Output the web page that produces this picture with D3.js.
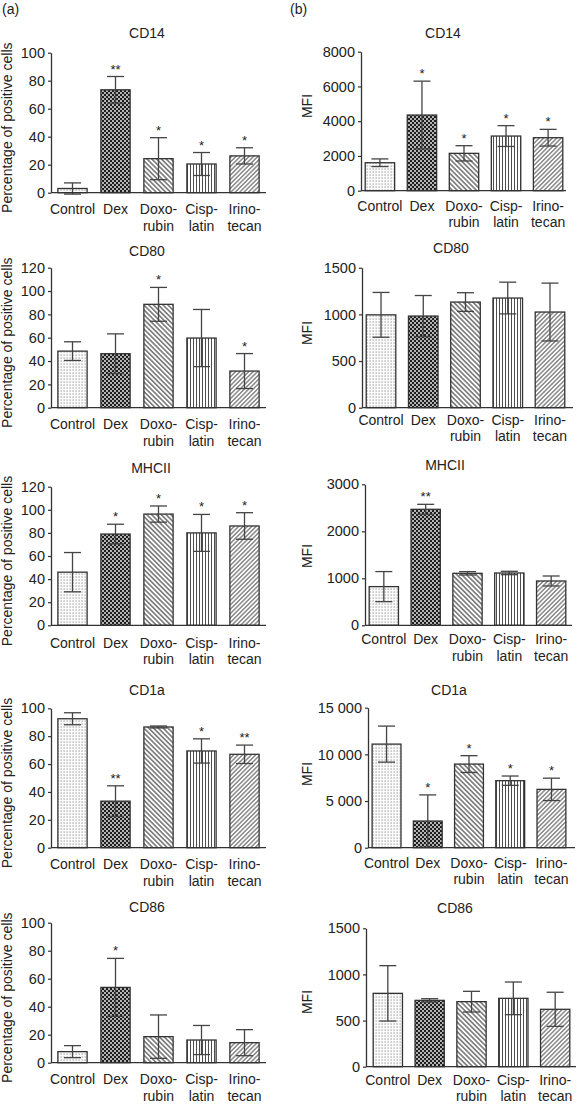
<!DOCTYPE html>
<html><head><meta charset="utf-8">
<script src="https://cdn.jsdelivr.net/npm/d3@7"></script>
<style>
body{margin:0;background:#fff}
svg{display:block}
text{font-family:"Liberation Sans",Arial,sans-serif;fill:#222}
</style>
</head><body>
<svg id="chart" width="577" height="1105"></svg>
<script>
// ---------- data ----------
const categories = ["Control", "Dex", "Doxorubin", "Cisplatin", "Irinotecan"];
const labelLine1 = ["Control", "Dex", "Doxo-", "Cisp-", "Irino-"];
const labelLine2 = ["", "", "rubin", "latin", "tecan"];
const markers = ["CD14", "CD80", "MHCII", "CD1a", "CD86"];

// (a) percentage of positive cells
const pctCD14 = [3, 73.5, 24.3, 20.5, 26.3];
const pctCD14Err = [4, 9.5, 15, 8.2, 5.8];
const pctCD14Sig = ["", "**", "*", "*", "*"];
const pctCD80 = [48.5, 46.3, 88.6, 59.7, 31.4];
const pctCD80Err = [8, 17, 14.5, 24.5, 15];
const pctCD80Sig = ["", "", "*", "", "*"];
const pctMHCII = [46, 79, 96.3, 80, 86];
const pctMHCIIErr = [17, 8.5, 7, 16, 11.5];
const pctMHCIISig = ["", "*", "*", "*", "*"];
const pctCD1a = [92.5, 33.4, 86.6, 69.4, 67];
const pctCD1aErr = [4.3, 11, 0.7, 8.7, 6.6];
const pctCD1aSig = ["", "**", "", "*", "**"];
const pctCD86 = [7.9, 53.8, 18.6, 16.2, 14.3];
const pctCD86Err = [4.3, 20.7, 15.5, 10.4, 9.3];
const pctCD86Sig = ["", "*", "", "", ""];

// (b) mean fluorescence intensity
const mfiCD14 = [1610, 4355, 2150, 3145, 3050];
const mfiCD14Err = [220, 1950, 440, 600, 480];
const mfiCD14Sig = ["", "*", "*", "*", "*"];
const mfiCD80 = [995, 982, 1132, 1175, 1025];
const mfiCD80Err = [240, 220, 100, 170, 310];
const mfiCD80Sig = ["", "", "", "", ""];
const mfiMHCII = [823, 2468, 1106, 1113, 943];
const mfiMHCIIErr = [320, 106, 36, 36, 106];
const mfiMHCIISig = ["", "**", "", "", ""];
const mfiCD1a = [11100, 2857, 8960, 7180, 6250];
const mfiCD1aErr = [1930, 2800, 900, 500, 1200];
const mfiCD1aSig = ["", "*", "*", "*", "*"];
const mfiCD86 = [795, 719, 705, 741, 622];
const mfiCD86Err = [300, 18, 112, 177, 185];
const mfiCD86Sig = ["", "", "", "", ""];

// tick values and labels
const pctTicks100 = [0, 20, 40, 60, 80, 100];
const pctTicks120 = [0, 20, 40, 60, 80, 100, 120];
const mfiTicksCD14 = [0, 2000, 4000, 6000, 8000];
const mfiTicks1500 = [0, 500, 1000, 1500];
const mfiTicksMHCII = [0, 1000, 2000, 3000];
const mfiTicksCD1a = [0, 5000, 10000, 15000];
const mfiTickLabelsCD1a = ["0", "5 000", "10 000", "15 000"];

// ---------- layout ----------
const panels = [
  {col:0, name:markers[0], v:pctCD14, e:pctCD14Err, s:pctCD14Sig, ticks:pctTicks100, top:52.7, base:192.7, titleX:147, titleY:38, lab:21.5},
  {col:0, name:markers[1], v:pctCD80, e:pctCD80Err, s:pctCD80Sig, ticks:pctTicks120, top:267.7, base:407.7, titleX:147, titleY:256, lab:21.5},
  {col:0, name:markers[2], v:pctMHCII, e:pctMHCIIErr, s:pctMHCIISig, ticks:pctTicks120, top:486.7, base:625.3, titleX:151, titleY:473, lab:22.5},
  {col:0, name:markers[3], v:pctCD1a, e:pctCD1aErr, s:pctCD1aSig, ticks:pctTicks100, top:708.3, base:847.7, titleX:147, titleY:695, lab:21.5},
  {col:0, name:markers[4], v:pctCD86, e:pctCD86Err, s:pctCD86Sig, ticks:pctTicks100, top:922.7, base:1062.7, titleX:147, titleY:912, lab:21.5},
  {col:1, name:markers[0], v:mfiCD14, e:mfiCD14Err, s:mfiCD14Sig, ticks:mfiTicksCD14, top:51.7, base:190.7, axisX:361, r:[361,567], xEnd:566, titleX:443, titleY:38, lab:20, mfiY:106},
  {col:1, name:markers[1], v:mfiCD80, e:mfiCD80Err, s:mfiCD80Sig, ticks:mfiTicks1500, top:267.7, base:407.7, axisX:362, r:[362,569], xEnd:573, titleX:451, titleY:253, lab:17, mfiY:333},
  {col:1, name:markers[2], v:mfiMHCII, e:mfiMHCIIErr, s:mfiMHCIISig, ticks:mfiTicksMHCII, top:484.3, base:625.3, axisX:365, r:[365,570], xEnd:572, titleX:445, titleY:470, lab:19, mfiY:556},
  {col:1, name:markers[3], v:mfiCD1a, e:mfiCD1aErr, s:mfiCD1aSig, ticks:mfiTicksCD1a, tickLabels:mfiTickLabelsCD1a, top:707.7, base:847.7, axisX:368, r:[368,570], xEnd:575, titleX:449, titleY:695, lab:20, mfiY:774},
  {col:1, name:markers[4], v:mfiCD86, e:mfiCD86Err, s:mfiCD86Sig, ticks:mfiTicks1500, top:928.3, base:1066.7, axisX:366, r:[369,574], xEnd:576, titleX:455, titleY:913, lab:18, mfiY:1002}
];

const svg = d3.select("#chart");
const defs = svg.append("defs");
const ink = "#333";

// ---------- fill patterns ----------
const pControl = defs.append("pattern").attr("id","p0").attr("patternUnits","userSpaceOnUse").attr("width",3).attr("height",3);
pControl.append("rect").attr("width",3).attr("height",3).attr("fill","#fbfbfb");
pControl.append("rect").attr("x",0.5).attr("y",0.5).attr("width",1.3).attr("height",1.1).attr("fill","#9a9a9a");

const pDex = defs.append("pattern").attr("id","p1").attr("patternUnits","userSpaceOnUse").attr("width",4).attr("height",4);
pDex.append("rect").attr("width",4).attr("height",4).attr("fill","#1e1e1e");
pDex.append("circle").attr("cx",1).attr("cy",1).attr("r",0.95).attr("fill","#f4f4f4");
pDex.append("circle").attr("cx",3).attr("cy",3).attr("r",0.95).attr("fill","#f4f4f4");

function linePattern(id, spacing, angle, width){
  const p = defs.append("pattern").attr("id",id).attr("patternUnits","userSpaceOnUse")
    .attr("width",spacing).attr("height",10).attr("patternTransform",`rotate(${angle})`);
  p.append("rect").attr("width",spacing).attr("height",10).attr("fill","#fff");
  p.append("line").attr("x1",spacing/2).attr("x2",spacing/2).attr("y1",0).attr("y2",10)
    .attr("stroke","#3a3a3a").attr("stroke-width",width);
}
linePattern("p2", 3.4, -45, 1.1);
linePattern("p3", 3.0, 0, 0.9);
linePattern("p4", 3.1, 45, 0.9);

// ---------- panel letters ----------
svg.append("text").attr("x",2).attr("y",14).attr("font-size",14).text("(a)");
svg.append("text").attr("x",290).attr("y",14).attr("font-size",14).text("(b)");

// ---------- draw panels ----------
panels.forEach(p => {
  const g = svg.append("g");
  const axisX = p.col === 0 ? 51 : p.axisX;
  const range = p.col === 0 ? [51, 266] : p.r;
  const xEnd = p.col === 0 ? 266 : p.xEnd;
  const x = d3.scaleBand().domain(categories).range(range)
    .paddingInner(p.col === 0 ? 0.32 : 0.3).paddingOuter(p.col === 0 ? 0.16 : 0.1);
  const y = d3.scaleLinear().domain([0, p.ticks[p.ticks.length-1]]).range([p.base, p.top]);

  // title
  g.append("text").attr("x",p.titleX).attr("y",p.titleY).attr("text-anchor","middle")
    .attr("font-size",14).text(p.name);

  // bars
  g.selectAll("rect.bar").data(categories).join("rect").attr("class","bar")
    .attr("x", d => x(d)).attr("width", x.bandwidth())
    .attr("y", (d,i) => y(p.v[i])).attr("height", (d,i) => y(0) - y(p.v[i]))
    .attr("fill", (d,i) => `url(#p${i})`).attr("stroke", ink).attr("stroke-width",1.3);

  // error bars
  const cap = 8.5;
  categories.forEach((c,i) => {
    const cx = x(c) + x.bandwidth()/2;
    const y1 = y(p.v[i] + p.e[i]), y2 = y(p.v[i] - p.e[i]);
    g.append("line").attr("x1",cx).attr("x2",cx).attr("y1",y1).attr("y2",y2)
      .attr("stroke","#444").attr("stroke-width",1.3);
    g.append("line").attr("x1",cx-cap).attr("x2",cx+cap).attr("y1",y1).attr("y2",y1)
      .attr("stroke","#444").attr("stroke-width",1.3);
    g.append("line").attr("x1",cx-cap).attr("x2",cx+cap).attr("y1",y2).attr("y2",y2)
      .attr("stroke","#444").attr("stroke-width",1.3);
    if (p.s[i]) {
      g.append("text").attr("x",cx).attr("y",y1 - 3).attr("text-anchor","middle")
        .attr("font-size",13).text(p.s[i]);
    }
  });

  // y axis
  const ax = d3.axisLeft(y).tickValues(p.ticks).tickSize(3).tickSizeOuter(0).tickPadding(3)
    .tickFormat((d,i) => p.tickLabels ? p.tickLabels[i] : String(d));
  const ag = g.append("g").attr("transform",`translate(${axisX},0)`).call(ax);
  ag.select(".domain").attr("stroke",ink).attr("stroke-width",1.3);
  ag.selectAll(".tick line").attr("stroke",ink).attr("stroke-width",1.2);
  ag.selectAll(".tick text").attr("font-size",14.5).attr("fill","#222")
    .attr("font-family","'Liberation Sans',Arial,sans-serif");

  // x baseline
  g.append("line").attr("x1",axisX).attr("x2",xEnd).attr("y1",p.base).attr("y2",p.base)
    .attr("stroke",ink).attr("stroke-width",1.3);

  // x labels
  categories.forEach((c,i) => {
    const cx = x(c) + x.bandwidth()/2;
    g.append("text").attr("x",cx).attr("y",p.base + p.lab).attr("text-anchor","middle")
      .attr("font-size",14).text(labelLine1[i]);
    if (labelLine2[i]) {
      g.append("text").attr("x",cx).attr("y",p.base + p.lab + 16.5).attr("text-anchor","middle")
        .attr("font-size",14).text(labelLine2[i]);
    }
  });

  // y label
  if (p.col === 0) {
    const cy = (p.top + p.base)/2 + 5;
    g.append("text").attr("transform",`translate(12,${cy}) rotate(-90)`).attr("text-anchor","middle")
      .attr("font-size",14).text("Percentage of positive cells");
  } else {
    g.append("text").attr("transform",`translate(312,${p.mfiY}) rotate(-90)`).attr("text-anchor","middle")
      .attr("font-size",14).text("MFI");
  }
});
</script>
</body></html>
